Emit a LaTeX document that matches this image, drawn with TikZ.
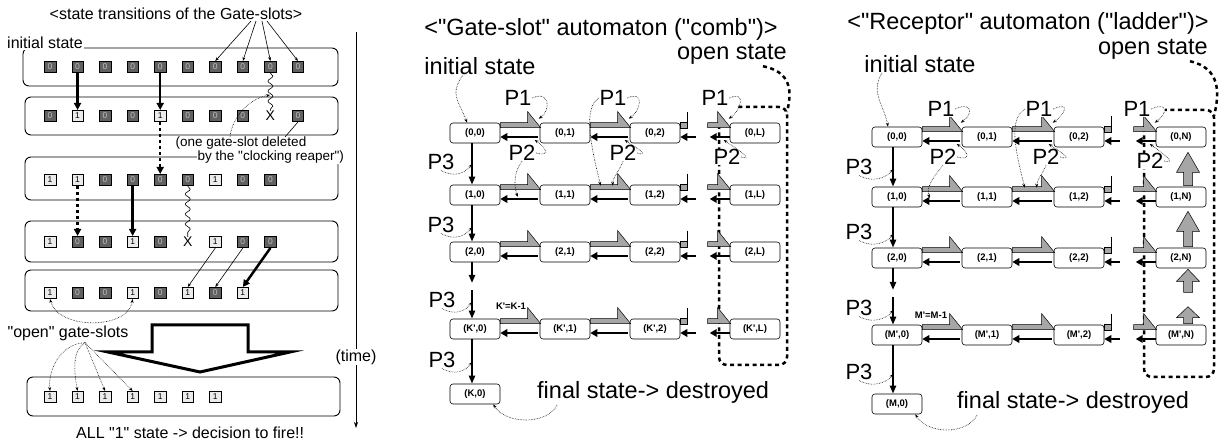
\documentclass[tikz,border=0pt]{standalone}
\usepackage{fontspec}
\setmainfont{Liberation Sans}[Ligatures=TeXOff]
\usetikzlibrary{arrows.meta,calc,decorations.pathmorphing}

\tikzset{
  slotbox/.style={draw, line width=0.9pt, rounded corners=6pt},
  cell0/.style={draw, line width=0.5pt, minimum size=11.5pt, inner sep=0pt, fill=black!62, text=black!25, font=\fontsize{8.5}{8.5}\selectfont},
  cell1/.style={draw, line width=0.5pt, minimum size=11.5pt, inner sep=0pt, fill=black!8, font=\fontsize{8.5}{8.5}\selectfont},
  cellX/.style={inner sep=0pt, font=\fontsize{14}{14}\selectfont},
  state/.style={draw, line width=0.6pt, rounded corners=3pt, minimum width=50pt, minimum height=20pt, inner sep=0pt, font=\bfseries\fontsize{9.5}{10}\selectfont},
  lbl/.style={font=\fontsize{16}{18}\selectfont, inner sep=1pt},
  big/.style={font=\fontsize{23.5}{26}\selectfont, inner sep=0pt},
  plab/.style={font=\fontsize{22}{24}\selectfont, inner sep=0.5pt, fill=white},
  lead/.style={densely dotted, line width=0.6pt, -{Stealth[length=4pt,width=3pt]}},
  thickarr/.style={line width=2.5pt, -{Triangle[length=7pt,width=7pt]}},
  thinarr/.style={line width=0.6pt, -{Stealth[length=4pt,width=3pt]}},
  back/.style={line width=2.6pt, -{Triangle[length=7pt,width=7.5pt]}},
  down/.style={line width=2pt, -{Triangle[length=8pt,width=6pt]}},
  hatch/.style={fill=black!35, draw=black, line width=0.5pt},
  openline/.style={line width=2.5pt, dash pattern=on 4pt off 3.5pt},
  wave/.style={line width=0.6pt, decorate, decoration={snake, amplitude=2.5pt, segment length=10pt}}
}

% gray step forward and black step back between two states
\newcommand{\linkpair}[2]{%
  \filldraw[hatch] (#1.north east) -- ($(#2.north west)+(-12,0)$) -- ($(#2.north west)+(-12,-11)$) -- ($(#2.north west)+(1,5)$) -- ($(#1.north east)+(0,5)$) -- cycle;
  \draw[back] ($(#2.west)+(-2,4)$) -- ($(#1.east)+(0,4)$);}
% broken links on both sides of the gap
\newcommand{\stubout}[1]{%
  \filldraw[hatch] (#1.north east) rectangle ($(#1.north east)+(7,6)$);
  \draw[line width=0.6pt] ($(#1.north east)+(7,-11)$) -- ($(#1.north east)+(7,6)$);
  \draw[back] ($(#1.east)+(16,4)$) -- ($(#1.east)+(0,4)$);}
\newcommand{\stubin}[1]{%
  \filldraw[hatch] ($(#1.north west)+(-22,0)$) -- ($(#1.north west)+(-12,0)$) -- ($(#1.north west)+(-12,-11)$) -- ($(#1.north west)+(1,5)$) -- ($(#1.north west)+(-22,5)$) -- cycle;
  \draw[back] ($(#1.west)+(0,4)$) -- ($(#1.west)+(-20,4)$);}
% fat upward arrow of the ladder
\newcommand{\fatup}[3]{%
  \filldraw[hatch] let \p1=(#1), \p2=(#2) in
    (\x1-4.5pt,\y1) -- (\x1-4.5pt,\y2-#3pt) -- (\x1-11.5pt,\y2-#3pt) -- (\x1,\y2)
    -- (\x1+11.5pt,\y2-#3pt) -- (\x1+4.5pt,\y2-#3pt) -- (\x1+4.5pt,\y1) -- cycle;}

\begin{document}
\begin{tikzpicture}[x=1pt,y=-1pt]
  \useasboundingbox (0,0) rectangle (1224,443);

  % Left panel: rows of gate-slots
  \draw[slotbox] (23,48) rectangle (338,86);
  \draw[slotbox] (25,97) rectangle (338,135);
  \draw[slotbox] (25,157) rectangle (338,200);
  \draw[slotbox] (25,221) rectangle (338,262);
  \draw[slotbox] (25,270) rectangle (338,311);
  \draw[slotbox] (27,377) rectangle (340,416);

  \foreach \v [count=\i] in {0,0,0,0,0,0,0,0,0,0}
    \node[cell\v] (a\i) at ({50+27.55*(\i-1)},67) {\v};
  \foreach \v [count=\i] in {0,1,0,0,1,0,0,0,X,0}
    \node[cell\v] (b\i) at ({50+27.55*(\i-1)},116) {\v};
  \foreach \v [count=\i] in {1,1,0,0,0,0,1,0,0}
    \node[cell\v] (c\i) at ({50+27.55*(\i-1)},180) {\v};
  \foreach \v [count=\i] in {1,0,0,1,0,X,1,0,0}
    \node[cell\v] (d\i) at ({50+27.55*(\i-1)},242) {\v};
  \foreach \v [count=\i] in {1,0,0,1,0,1,0,1}
    \node[cell\v] (e\i) at ({50+27.55*(\i-1)},293) {\v};
  \foreach \v [count=\i] in {1,1,1,1,1,1,1}
    \node[cell\v] (f\i) at ({50+27.55*(\i-1)},397) {\v};

  \node[lbl] (ltitle) at (176,14) {<state transitions of the Gate-slots>};
  \node[lbl, fill=white, anchor=west] (linit) at (6,43) {initial state};
  \node[font=\fontsize{13.5}{15}\selectfont, anchor=west, inner sep=0.5pt] (del) at (175,143) {(one gate-slot deleted};
  \node[font=\fontsize{13.5}{15}\selectfont, anchor=west, inner sep=0.5pt, fill=white] (reap) at (197,157) {by the "clocking reaper")};
  \node[lbl] (opn) at (68,333) {"open" gate-slots};
  \node[lbl, anchor=west] (fire) at (75,433) {ALL "1" state -> decision to fire!!};

  \draw[thinarr] ([xshift=75pt]ltitle.south) -- (a7.north);
  \draw[thinarr] ([xshift=80pt]ltitle.south) -- (a8.north);
  \draw[thinarr] ([xshift=86pt]ltitle.south) -- (a9.north);
  \draw[thinarr] ([xshift=91pt]ltitle.south) -- (a10.north);

  \draw[thickarr] (a2.south) -- (b2.north);
  \draw[thickarr] (a5.south) -- (b5.north);
  \draw[wave] (a9.south) -- (b9.north);
  \coordinate (cut) at (270,95);
  \draw[lead] ($(del.north west)+(55,1)$) .. controls (232,118) and (248,99) .. (cut);
  \draw[line width=0.6pt] ($(del.north east)+(-22,1)$) -- (b10.south);

  \draw[thickarr, dash pattern=on 3pt off 3pt] (b5.south) -- (c5.north);
  \draw[thickarr, dash pattern=on 3pt off 3pt] (c2.south) -- (d2.north);
  \draw[thickarr] (c4.south) -- (d4.north);
  \draw[wave] (c6.south) -- (d6.north);

  \draw[thinarr] (d7.south) -- (e6.north);
  \draw[thinarr] (d8.south) -- (e7.north);
  \draw[thickarr] (d9.south) -- (e8.north);

  \draw[lead, {Stealth[length=4pt,width=3pt]}-{Stealth[length=4pt,width=3pt]}] (e1.south) .. controls (58,330) and (128,330) .. (e4.south);
  \coordinate (fan) at ($(opn.south)+(17,1)$);
  \draw[lead] (fan) .. controls (60,344) and (48,370) .. (f1.north);
  \draw[lead] (fan) .. controls (72,350) and (74,372) .. (f2.north);
  \draw[lead] (fan) -- (f3.north);
  \draw[lead] (fan) -- (f4.north);

  % big hollow arrow
  \draw[line width=3pt] (152,325) -- (248,325) -- (248,352) -- (290,352) -- (200,372) -- (108,352) -- (152,352) -- cycle;

  % time axis
  \coordinate (ttop) at (356,32);
  \coordinate (tbot) at (356,428);
  \draw[line width=0.7pt, -{Stealth[length=6pt,width=4pt]}] (ttop) -- (tbot);
  \node[lbl, fill=white] (time) at (356,357) {(time)};

  % Middle panel: comb automaton
  \draw[openline, rounded corners=8pt] (719,125) -- (719,365) -- (787,365) -- (787,107) -- (737,107);

  \node[big] (mtitle) at (601,29) {<"Gate-slot" automaton ("comb")>};
  \node[big, anchor=east] (mopen) at (787,54) {open state};
  \node[big] (minit) at (480,66) {initial state};

  \node[state] (m00) at (475,133) {(0,0)};
  \node[state] (m01) at (565,133) {(0,1)};
  \node[state] (m02) at (655,133) {(0,2)};
  \node[state] (m0L) at (755,133) {(0,L)};
  \node[state] (m10) at (475,195) {(1,0)};
  \node[state] (m11) at (565,195) {(1,1)};
  \node[state] (m12) at (655,195) {(1,2)};
  \node[state] (m1L) at (755,195) {(1,L)};
  \node[state] (m20) at (475,252) {(2,0)};
  \node[state] (m21) at (565,252) {(2,1)};
  \node[state] (m22) at (655,252) {(2,2)};
  \node[state] (m2L) at (755,252) {(2,L)};
  \node[state] (mK0) at (475,329) {(K',0)};
  \node[state] (mK1) at (565,329) {(K',1)};
  \node[state] (mK2) at (655,329) {(K',2)};
  \node[state] (mKL) at (755,329) {(K',L)};
  \node[state] (mK) at (475,394) {(K,0)};

  \linkpair{m00}{m01} \linkpair{m01}{m02} \stubout{m02} \stubin{m0L}
  \linkpair{m10}{m11} \linkpair{m11}{m12} \stubout{m12} \stubin{m1L}
  \linkpair{m20}{m21} \linkpair{m21}{m22} \stubout{m22} \stubin{m2L}
  \linkpair{mK0}{mK1} \linkpair{mK1}{mK2} \stubout{mK2} \stubin{mKL}

  \coordinate (mgapa) at (472,283);
  \coordinate (mgapb) at (472,290);
  \draw[down] ([xshift=-3pt]m00.south) -- ([xshift=-3pt]m10.north);
  \draw[down] ([xshift=-3pt]m10.south) -- ([xshift=-3pt]m20.north);
  \draw[down] ([xshift=-3pt]m20.south) -- (mgapa);
  \draw[down] (mgapb) -- ([xshift=-3pt]mK0.north);
  \draw[down] ([xshift=-3pt]mK0.south) -- ([xshift=-3pt]mK.north);

  \node[plab] (mp1a) at (518,98) {P1};
  \node[plab] (mp1b) at (613,98) {P1};
  \node[plab] (mp1c) at (715,98) {P1};
  \node[plab] (mp2a) at (522,153) {P2};
  \node[plab] (mp2b) at (623,153) {P2};
  \node[plab] (mp2c) at (727,157) {P2};
  \node[plab] (mp3a) at (441,162) {P3};
  \node[plab] (mp3b) at (441,225) {P3};
  \node[plab] (mp3c) at (442,300) {P3};
  \node[plab] (mp3d) at (442,360) {P3};
  \node[state, draw=none] (mkk) at (511,306) {K'=K-1};
  \node[big, anchor=west] (mfin) at (537,392) {final state-> destroyed};

  \draw[openline] ($(mopen.south east)+(-24,2)$) .. controls (792,72) and (792,92) .. (787,112);
  \draw[lead] ([xshift=-17pt]minit.south) .. controls +(-14,20) and +(-8,-22) .. ([xshift=-8pt]m00.north);
  \draw[lead] (mp1a.east) .. controls +(18,-8) and +(12,-8) .. ($(m01.north west)+(-1,-4)$);
  \draw[lead] (mp1b.east) .. controls +(18,-8) and +(12,-8) .. ($(m02.north west)+(-1,-4)$);
  \draw[lead] (mp1c.east) .. controls +(18,-8) and +(12,-8) .. ($(m0L.north west)+(-1,-4)$);
  \draw[lead] (mp1b.west) .. controls +(-16,10) and +(-10,-40) .. ($(m12.north west)+(-29,1)$);
  \draw[lead] (mp2a.east) .. controls +(14,4) and +(12,8) .. ($(m01.west)+(-5,7)$);
  \draw[lead] (mp2b.east) .. controls +(14,4) and +(12,8) .. ($(m02.west)+(-5,7)$);
  \draw[lead] (mp2c.east) .. controls +(14,4) and +(12,8) .. ($(m0L.west)+(-6,7)$);
  \draw[lead] (mp2a.south) .. controls +(-8,10) and +(-4,-12) .. ($(m11.west)+(-22,2)$);
  \draw[lead] (mp2b.south) .. controls +(-3,8) and +(0,-8) .. ($(m12.north west)+(-17,1)$);
  \draw[lead] (mp3a.south) .. controls +(14,8) and +(-6,8) .. ($(mp3a.east)+(17,2)$);
  \draw[lead] (mp3b.south) .. controls +(14,8) and +(-6,8) .. ($(mp3b.east)+(17,2)$);
  \draw[lead] (mp3c.south) .. controls +(14,8) and +(-6,8) .. ($(mp3c.east)+(16,2)$);
  \draw[lead] (mp3d.south) .. controls +(14,8) and +(-6,8) .. ($(mp3d.east)+(16,2)$);
  \draw[lead] ($(mfin.south west)+(20,2)$) .. controls +(-10,20) and +(12,20) .. ([xshift=-7pt]mK.south east);

  % Right panel: ladder automaton
  \draw[openline, rounded corners=8pt] (1144,128) -- (1144,377) -- (1214,377) -- (1214,110) -- (1165,110);

  \node[big] (rtitle) at (1028,23) {<"Receptor" automaton ("ladder")>};
  \node[big, anchor=east] (ropen) at (1208,49) {open state};
  \node[big] (rinit) at (920,64) {initial state};

  \node[state] (r00) at (897,137) {(0,0)};
  \node[state] (r01) at (987,137) {(0,1)};
  \node[state] (r02) at (1079,137) {(0,2)};
  \node[state] (r0N) at (1181,137) {(0,N)};
  \node[state] (r10) at (897,197) {(1,0)};
  \node[state] (r11) at (987,197) {(1,1)};
  \node[state] (r12) at (1079,197) {(1,2)};
  \node[state] (r1N) at (1181,197) {(1,N)};
  \node[state] (r20) at (897,258) {(2,0)};
  \node[state] (r21) at (987,258) {(2,1)};
  \node[state] (r22) at (1079,258) {(2,2)};
  \node[state] (r2N) at (1181,258) {(2,N)};
  \node[state] (rM0) at (897,335) {(M',0)};
  \node[state] (rM1) at (987,335) {(M',1)};
  \node[state] (rM2) at (1079,335) {(M',2)};
  \node[state] (rMN) at (1181,335) {(M',N)};
  \node[state] (rM) at (897,404) {(M,0)};

  \linkpair{r00}{r01} \linkpair{r01}{r02} \stubout{r02} \stubin{r0N}
  \linkpair{r10}{r11} \linkpair{r11}{r12} \stubout{r12} \stubin{r1N}
  \linkpair{r20}{r21} \linkpair{r21}{r22} \stubout{r22} \stubin{r2N}
  \linkpair{rM0}{rM1} \linkpair{rM1}{rM2} \stubout{rM2} \stubin{rMN}

  \fatup{$(r1N.north)+(7,-1)$}{$(r0N.south)+(7,5)$}{20}
  \fatup{$(r2N.north)+(7,-1)$}{$(r1N.south)+(7,4)$}{20}
  \fatup{$(r2N.south)+(7,24)$}{$(r2N.south)+(7,1)$}{12}
  \fatup{$(rMN.north)+(7,-1)$}{$(rMN.north)+(7,-18)$}{11}

  \coordinate (rgapa) at (893,290);
  \coordinate (rgapb) at (893,297);
  \draw[down] ([xshift=-4pt]r00.south) -- ([xshift=-4pt]r10.north);
  \draw[down] ([xshift=-4pt]r10.south) -- ([xshift=-4pt]r20.north);
  \draw[down] ([xshift=-4pt]r20.south) -- (rgapa);
  \draw[down] (rgapb) -- ([xshift=-4pt]rM0.north);
  \draw[down] ([xshift=-4pt]rM0.south) -- ([xshift=-4pt]rM.north);

  \node[plab] (rp1a) at (941,109) {P1};
  \node[plab] (rp1b) at (1039,109) {P1};
  \node[plab] (rp1c) at (1137,109) {P1};
  \node[plab] (rp2a) at (943,157) {P2};
  \node[plab] (rp2b) at (1046,157) {P2};
  \node[plab] (rp2c) at (1150,161) {P2};
  \node[plab] (rp3a) at (859,167) {P3};
  \node[plab] (rp3b) at (859,232) {P3};
  \node[plab] (rp3c) at (859,308) {P3};
  \node[plab] (rp3d) at (859,372) {P3};
  \node[state, draw=none] (rmm) at (931,315) {M'=M-1};
  \node[big, anchor=west] (rfin) at (957,402) {final state-> destroyed};

  \draw[openline] ($(ropen.south east)+(-18,2)$) .. controls (1220,68) and (1220,92) .. (1214,116);
  \draw[lead] ([xshift=-38pt]rinit.south) .. controls +(-12,20) and +(-4,-22) .. ([xshift=-9pt]r00.north);
  \draw[lead] (rp1a.east) .. controls +(18,-8) and +(12,-8) .. ($(r01.north west)+(-1,-4)$);
  \draw[lead] (rp1b.east) .. controls +(18,-8) and +(12,-8) .. ($(r02.north west)+(-1,-4)$);
  \draw[lead] (rp1c.east) .. controls +(18,-8) and +(12,-8) .. ($(r0N.north west)+(-1,-4)$);
  \draw[lead] (rp1b.west) .. controls +(-16,10) and +(-10,-40) .. ($(r12.north west)+(-29,1)$);
  \draw[lead] (rp2a.east) .. controls +(14,4) and +(12,8) .. ($(r01.west)+(-5,7)$);
  \draw[lead] (rp2b.east) .. controls +(14,4) and +(12,8) .. ($(r02.west)+(-5,7)$);
  \draw[lead] (rp2c.east) .. controls +(14,4) and +(12,8) .. ($(r0N.west)+(-6,7)$);
  \draw[lead] (rp2a.south) .. controls +(-8,10) and +(-4,-12) .. ($(r11.west)+(-32,1)$);
  \draw[lead] (rp2b.south) .. controls +(-3,8) and +(0,-8) .. ($(r12.north west)+(-17,1)$);
  \draw[lead] (rp3a.south) .. controls +(14,8) and +(-6,8) .. ($(rp3a.east)+(20,2)$);
  \draw[lead] (rp3b.south) .. controls +(14,8) and +(-6,8) .. ($(rp3b.east)+(20,2)$);
  \draw[lead] (rp3c.south) .. controls +(14,8) and +(-6,8) .. ($(rp3c.east)+(20,2)$);
  \draw[lead] (rp3d.south) .. controls +(14,8) and +(-6,8) .. ($(rp3d.east)+(20,2)$);
  \draw[lead] ($(rfin.south west)+(20,2)$) .. controls +(-10,20) and +(12,20) .. ([xshift=-7pt]rM.south east);
\end{tikzpicture}
\end{document}
